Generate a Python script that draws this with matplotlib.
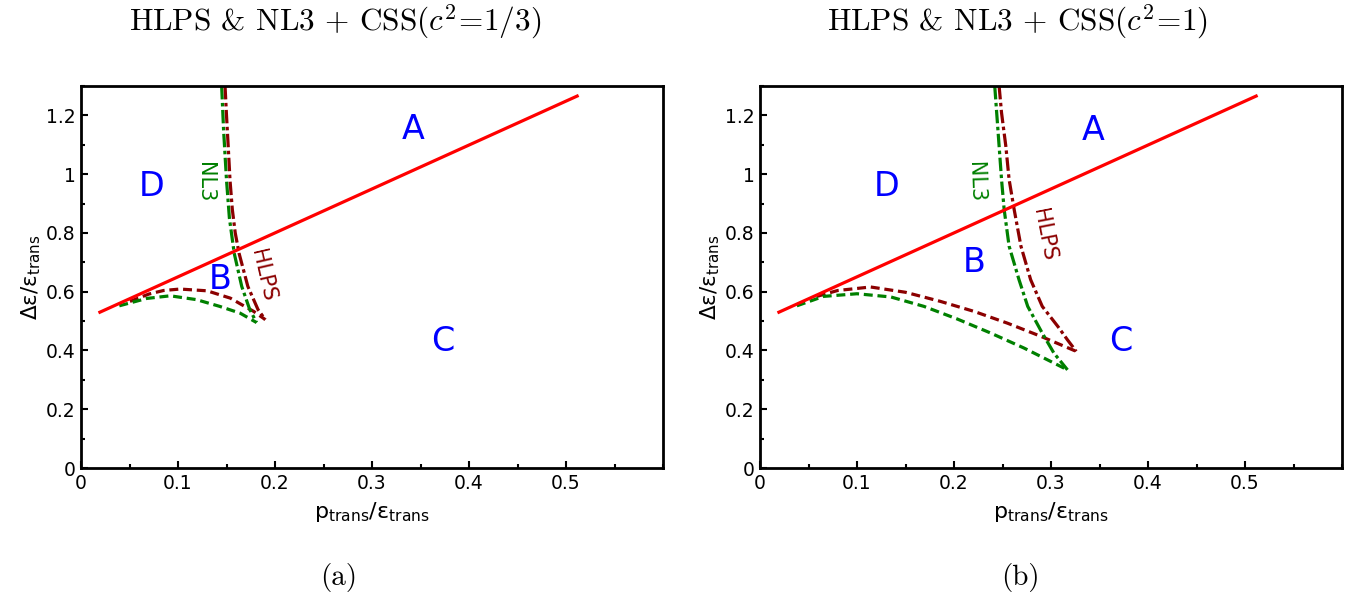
import matplotlib
matplotlib.use("Agg")
import matplotlib.pyplot as plt
from matplotlib.ticker import MultipleLocator, FuncFormatter

plt.rcParams['font.family'] = ['DejaVu Sans']
plt.rcParams['mathtext.fontset'] = 'dejavusans'

# ---- data ----
boundary_x = [0.018, 0.513]
boundary_y = [0.528, 1.268]

# panel (a): c^2 = 1/3
a_hlps_dd_x = [0.1485, 0.150, 0.152, 0.1536, 0.156, 0.159, 0.163, 0.172, 0.1825, 0.190]
a_hlps_dd_y = [1.30, 1.20, 1.08, 0.98, 0.88, 0.80, 0.73, 0.618, 0.539, 0.505]
a_nl3_dd_x = [0.145, 0.147, 0.150, 0.153, 0.158, 0.1657, 0.174, 0.181]
a_nl3_dd_y = [1.30, 1.15, 0.98, 0.85, 0.73, 0.618, 0.539, 0.495]
a_hlps_d_x = [0.0505, 0.07, 0.085, 0.102, 0.13, 0.154, 0.164, 0.178, 0.190]
a_hlps_d_y = [0.567, 0.592, 0.604, 0.609, 0.603, 0.578, 0.559, 0.533, 0.505]
a_nl3_d_x = [0.0395, 0.0677, 0.092, 0.119, 0.143, 0.164, 0.181]
a_nl3_d_y = [0.552, 0.577, 0.586, 0.573, 0.550, 0.527, 0.495]

# panel (b): c^2 = 1
b_hlps_dd_x = [0.2465, 0.249, 0.2534, 0.2568, 0.262, 0.269, 0.279, 0.291, 0.307, 0.317, 0.326]
b_hlps_dd_y = [1.30, 1.209, 1.096, 0.982, 0.880, 0.755, 0.641, 0.550, 0.482, 0.436, 0.397]
b_nl3_dd_x = [0.242, 0.244, 0.2465, 0.249, 0.2517, 0.2568, 0.267, 0.276, 0.291, 0.303, 0.317]
b_nl3_dd_y = [1.30, 1.209, 1.096, 0.982, 0.880, 0.755, 0.641, 0.550, 0.459, 0.391, 0.334]
b_hlps_d_x = [0.0586, 0.08, 0.114, 0.15, 0.186, 0.2206, 0.255, 0.2896, 0.326]
b_hlps_d_y = [0.584, 0.604, 0.616, 0.598, 0.567, 0.533, 0.493, 0.448, 0.397]
b_nl3_d_x = [0.038, 0.0655, 0.100, 0.135, 0.169, 0.2034, 0.238, 0.2723, 0.317]
b_nl3_d_y = [0.552, 0.584, 0.593, 0.582, 0.550, 0.507, 0.459, 0.408, 0.334]

regions = ['A', 'B', 'C', 'D']
a_region_pos = [(0.342, 1.152), (0.144, 0.641), (0.373, 0.43), (0.073, 0.958)]
b_region_pos = [(0.343, 1.149), (0.221, 0.699), (0.372, 0.43), (0.131, 0.958)]

xticks = [0, 0.1, 0.2, 0.3, 0.4, 0.5]
yticks = [0, 0.2, 0.4, 0.6, 0.8, 1.0, 1.2]

titles = [r'HLPS & NL3 + CSS$(c^2\!=\!1/3)$',
          r'HLPS & NL3 + CSS$(c^2\!=\!1)$']
captions = ['(a)', '(b)']

RED = '#ff0000'
DRED = '#8b0000'
GREEN = '#008000'

fig = plt.figure(figsize=(13.51, 5.94), dpi=100)
ax_a = fig.add_axes([81/1351, 1-468/594, 582/1351, 382/594])
ax_b = fig.add_axes([760/1351, 1-468/594, 582/1351, 382/594])

lw = 2.3
dd = (4.2, 1.1, 1.1, 1.1)
dsh = (2.8, 1.5)

def draw(ax, hdd, ndd, hd, nd, rpos, nl3pos, nl3rot, hlpspos, hlpsrot):
    ax.plot(boundary_x, boundary_y, color=RED, lw=lw, solid_capstyle='butt', zorder=3)
    l, = ax.plot(*hd, color=DRED, lw=lw, zorder=2)
    l.set_dashes(dsh)
    l, = ax.plot(*nd, color=GREEN, lw=lw, zorder=2)
    l.set_dashes(dsh)
    l, = ax.plot(*ndd, color=GREEN, lw=lw, zorder=2)
    l.set_dashes(dd)
    l, = ax.plot(*hdd, color=DRED, lw=lw, zorder=2)
    l.set_dashes(dd)
    for name, (x, y) in zip(regions, rpos):
        ax.text(x, y, name, color='#0000ff', fontsize=24, ha='center', va='center')
    ax.text(*nl3pos, 'NL3', color=GREEN, fontsize=15, rotation=nl3rot,
            ha='center', va='center', rotation_mode='anchor')
    ax.text(*hlpspos, 'HLPS', color=DRED, fontsize=15, rotation=hlpsrot,
            ha='center', va='center', rotation_mode='anchor')
    ax.set_xlim(0, 0.6)
    ax.set_ylim(0, 1.3)
    ax.set_xticks(xticks)
    ax.set_yticks(yticks)
    ax.xaxis.set_minor_locator(MultipleLocator(0.05))
    ax.yaxis.set_minor_locator(MultipleLocator(0.1))
    fmt = FuncFormatter(lambda v, p: ('%g' % v))
    ax.xaxis.set_major_formatter(fmt)
    ax.yaxis.set_major_formatter(fmt)
    ax.tick_params(which='both', direction='in', top=False, right=False,
                   labelsize=13.5, width=1.5, colors='black')
    ax.tick_params(which='major', length=5, pad=4)
    ax.tick_params(which='minor', length=3)
    for s in ax.spines.values():
        s.set_linewidth(2.0)
    ax.set_xlabel(r'$\mathregular{p_{trans}/ε_{trans}}$', fontsize=16, labelpad=5)
    ax.set_ylabel(r'$\mathregular{Δε/ε_{trans}}$', fontsize=15.5, labelpad=2)

draw(ax_a, (a_hlps_dd_x, a_hlps_dd_y), (a_nl3_dd_x, a_nl3_dd_y),
     (a_hlps_d_x, a_hlps_d_y), (a_nl3_d_x, a_nl3_d_y), a_region_pos,
     (0.128, 0.972), -90, (0.187, 0.655), -77)
draw(ax_b, (b_hlps_dd_x, b_hlps_dd_y), (b_nl3_dd_x, b_nl3_dd_y),
     (b_hlps_d_x, b_hlps_d_y), (b_nl3_d_x, b_nl3_d_y), b_region_pos,
     (0.222, 0.972), -88, (0.293, 0.794), -79)

for xc, t in zip([335, 1018], titles):
    fig.text(xc/1351, 1-22/594, t, fontsize=22.5, ha='center', va='center',
             family='cmr10', math_fontfamily='cm')
for xc, c in zip([339, 1020], captions):
    fig.text(xc/1351, 1-577/594, c, fontsize=21, ha='center', va='center',
             family='cmr10', math_fontfamily='cm')

fig.savefig('out.png', dpi=100)
